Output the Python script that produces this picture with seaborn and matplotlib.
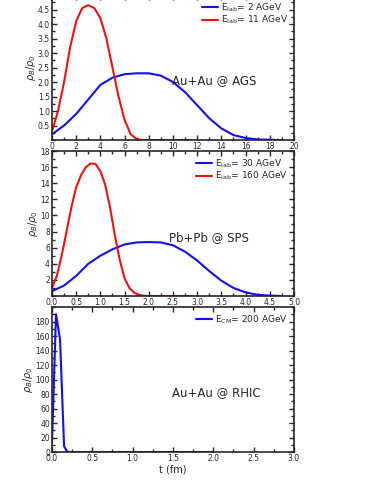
import numpy as np
import pandas as pd
import seaborn as sns
import matplotlib.pyplot as plt
from matplotlib.ticker import MultipleLocator

# AGS: Au+Au
t_ags_2 = [0, 1, 2, 3, 4, 5, 6, 7, 8, 9, 10, 11, 12, 13, 14, 15, 16, 17, 18, 19]
rho_ags_2 = [0.2, 0.5, 0.9, 1.4, 1.9, 2.15, 2.27, 2.3, 2.3, 2.22, 2.0, 1.65, 1.2, 0.75, 0.4, 0.17, 0.07, 0.02, 0.01, 0.0]
t_ags_11 = [0, 0.5, 1, 1.5, 2, 2.5, 3, 3.5, 4, 4.5, 5, 5.5, 6, 6.5, 7, 7.5, 8, 9, 10, 11, 11.5]
rho_ags_11 = [0.3, 1.0, 2.0, 3.2, 4.1, 4.55, 4.65, 4.55, 4.2, 3.5, 2.5, 1.5, 0.7, 0.2, 0.03, 0.0, 0.0, 0.0, 0.0, 0.0, 0.0]

# SPS: Pb+Pb
t_sps_30 = [0, 0.25, 0.5, 0.75, 1.0, 1.25, 1.5, 1.75, 2.0, 2.25, 2.5, 2.75, 3.0, 3.25, 3.5, 3.75, 4.0, 4.25, 4.5, 4.75]
rho_sps_30 = [0.6, 1.3, 2.5, 4.0, 5.0, 5.8, 6.4, 6.65, 6.7, 6.65, 6.3, 5.5, 4.4, 3.1, 1.9, 1.0, 0.45, 0.15, 0.05, 0.0]
t_sps_160 = [0, 0.1, 0.2, 0.3, 0.4, 0.5, 0.6, 0.7, 0.8, 0.9, 1.0, 1.1, 1.2, 1.3, 1.4, 1.5, 1.6, 1.7, 1.8, 1.9, 2.0, 2.5, 2.9]
rho_sps_160 = [1.0, 2.5, 5.0, 8.0, 11.0, 13.5, 15.0, 16.0, 16.45, 16.4, 15.5, 13.8, 11.0, 7.5, 4.5, 2.2, 1.0, 0.4, 0.15, 0.03, 0.0, 0.0, 0.0]

# RHIC: Au+Au
t_rhic = [0.0, 0.05, 0.1, 0.15, 0.18, 0.2, 0.5, 1.0, 1.5, 2.0]
rho_rhic = [12, 190, 155, 8, 2, 0, 0, 0, 0, 0]

sns.set_style('ticks')
plt.rcParams['font.family'] = ['DejaVu Sans']
plt.rcParams['xtick.direction'] = 'in'
plt.rcParams['ytick.direction'] = 'in'

fig = plt.figure(figsize=(3.74, 4.84), dpi=100)
left, width, height = 0.139, 0.647, 0.2996
ax1 = fig.add_axes([left, 0.7107, width, height])
ax2 = fig.add_axes([left, 0.3884, width, height])
ax3 = fig.add_axes([left, 0.0661, width, height])

sns.lineplot(x=t_ags_2, y=rho_ags_2, ax=ax1, color='#1010f0', lw=1.5, label=r'E$_{\mathregular{lab}}$= 2 AGeV')
sns.lineplot(x=t_ags_11, y=rho_ags_11, ax=ax1, color='#f01010', lw=1.5, label=r'E$_{\mathregular{lab}}$= 11 AGeV')
sns.lineplot(x=t_sps_30, y=rho_sps_30, ax=ax2, color='#1010f0', lw=1.5, label=r'E$_{\mathregular{lab}}$= 30 AGeV')
sns.lineplot(x=t_sps_160, y=rho_sps_160, ax=ax2, color='#f01010', lw=1.5, label=r'E$_{\mathregular{lab}}$= 160 AGeV')
sns.lineplot(x=t_rhic, y=rho_rhic, ax=ax3, color='#1010f0', lw=1.5, label=r'E$_{\mathregular{CM}}$= 200 AGeV')

setup = [
    (ax1, (0, 20), 2, 1, (0, 5), np.arange(0.5, 4.51, 0.5), 0.25, 'Au+Au @ AGS', (0.67, 0.41), '{:.1f}', '{:g}'),
    (ax2, (0, 5), 0.5, 0.25, (0, 18), np.arange(2, 18.1, 2), 1, 'Pb+Pb @ SPS', (0.65, 0.40), '{:g}', '{:.1f}'),
    (ax3, (0, 3), 0.5, 0.25, (0, 200), np.arange(0, 181, 20), 10, 'Au+Au @ RHIC', (0.68, 0.41), '{:g}', '{:.1f}'),
]
for ax, xl, xmaj, xmin, yl, yt, ymin, label, pos, yfmt, xfmt in setup:
    ax.set_xlim(*xl)
    ax.set_ylim(*yl)
    xt = np.arange(xl[0], xl[1] + 1e-9, xmaj)
    ax.set_xticks(xt)
    ax.set_xticklabels([xfmt.format(v) for v in xt])
    ax.xaxis.set_minor_locator(MultipleLocator(xmin))
    ax.set_yticks(yt)
    ax.set_yticklabels([yfmt.format(v) for v in yt])
    ax.yaxis.set_minor_locator(MultipleLocator(ymin))
    ax.tick_params(which='both', top=True, right=True, labelsize=5.5, pad=1.5, width=1)
    ax.tick_params(which='major', length=3.5)
    ax.tick_params(which='minor', length=2)
    for s in ax.spines.values():
        s.set_linewidth(1.2)
    ax.set_ylabel(r'$\rho_B/\rho_0$', fontsize=7, labelpad=0)
    ax.set_xlabel('')
    ax.text(pos[0], pos[1], label, transform=ax.transAxes, ha='center', va='center', fontsize=8.5)
    ax.legend(loc='upper right', frameon=False, fontsize=6.5, handlelength=1.8,
              handletextpad=0.3, labelspacing=0.0, borderaxespad=0.3)

ax3.set_xlabel('t (fm)', fontsize=7, labelpad=1)

fig.savefig('out.png', dpi=100)
